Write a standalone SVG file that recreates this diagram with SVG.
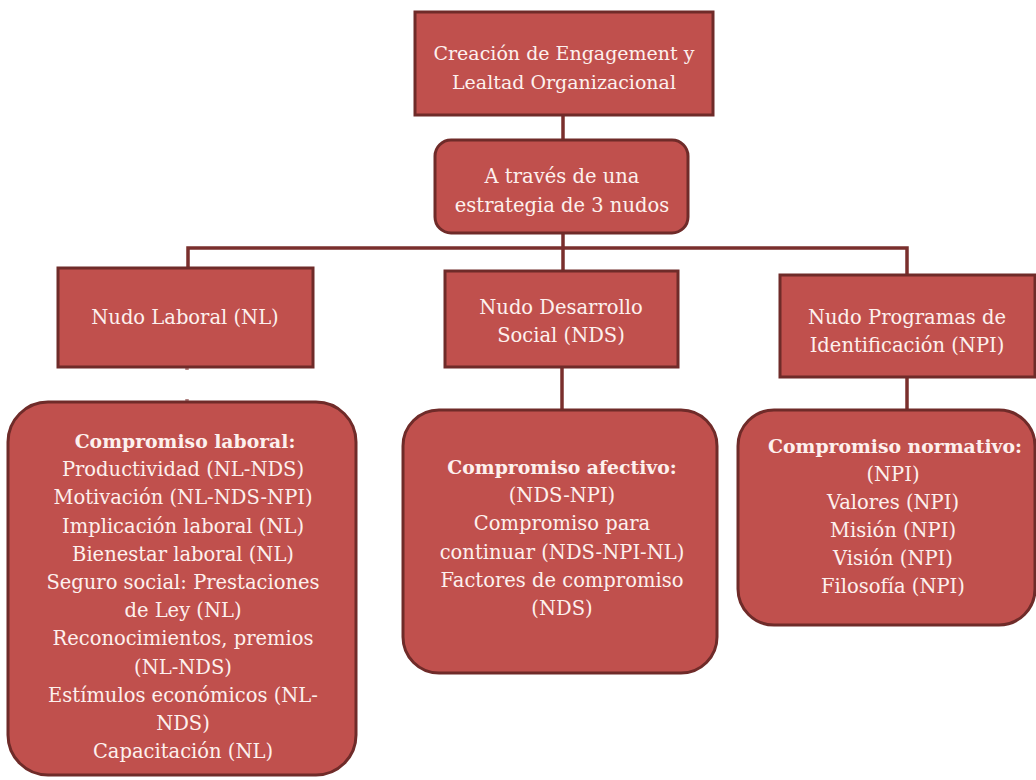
<svg xmlns="http://www.w3.org/2000/svg" width="1036" height="780" viewBox="0 0 1036 780">
<style>
.box{fill:#c0504d;stroke:#6f2b29;stroke-width:3}
.t{font-family:'DejaVu Serif','Liberation Serif',serif;font-size:19.5px;fill:#fdf0ee;text-anchor:middle}
.s{font-size:19px}
.b{font-weight:bold;font-size:18.8px}
.c{stroke:#7a2f2d;stroke-width:3.5;fill:none}
</style>
<rect width="1036" height="780" fill="#ffffff"/>
<g id="connectors">
<path class="c" d="M563,115 V140"/>
<path class="c" d="M563,233 V271"/>
<path class="c" d="M188,268 V248 H907 V275"/>
<path class="c" d="M187,367 V370 M187,399 V402" stroke-opacity="0.6"/>
<path class="c" d="M562,367 V410"/>
<path class="c" d="M907,377 V410"/>
</g>
<g id="n-top">
<rect class="box" x="415" y="12" width="298" height="103"/>
<text class="t s" x="564" y="60">Creación de Engagement y</text>
<text class="t s" x="564" y="89">Lealtad Organizacional</text>
</g>
<g id="n-strategy">
<rect class="box" x="435" y="140" width="253" height="93" rx="16"/>
<text class="t" x="562" y="183">A través de una</text>
<text class="t" x="562" y="212">estrategia de 3 nudos</text>
</g>
<g id="n-nl">
<rect class="box" x="58" y="268" width="255" height="99"/>
<text class="t" x="185" y="324">Nudo Laboral (NL)</text>
</g>
<g id="n-nds">
<rect class="box" x="445" y="271" width="233" height="96"/>
<text class="t" x="561" y="314">Nudo Desarrollo</text>
<text class="t" x="561" y="342">Social (NDS)</text>
</g>
<g id="n-npi">
<rect class="box" x="780" y="275" width="255" height="102"/>
<text class="t" x="907" y="324">Nudo Programas de</text>
<text class="t" x="907" y="352">Identificación (NPI)</text>
</g>
<g id="n-laboral">
<rect class="box" x="8" y="402" width="348" height="373" rx="40"/>
<text class="t b" x="185" y="448">Compromiso laboral:</text>
<text class="t" x="183" y="476">Productividad (NL-NDS)</text>
<text class="t" x="183" y="504">Motivación (NL-NDS-NPI)</text>
<text class="t" x="183" y="533">Implicación laboral (NL)</text>
<text class="t" x="183" y="561">Bienestar laboral (NL)</text>
<text class="t" x="183" y="589">Seguro social: Prestaciones</text>
<text class="t" x="183" y="617">de Ley (NL)</text>
<text class="t" x="183" y="645">Reconocimientos, premios</text>
<text class="t" x="183" y="674">(NL-NDS)</text>
<text class="t" x="183" y="702">Estímulos económicos (NL-</text>
<text class="t" x="183" y="730">NDS)</text>
<text class="t" x="183" y="758">Capacitación (NL)</text>
</g>
<g id="n-afectivo">
<rect class="box" x="403" y="410" width="314" height="263" rx="36"/>
<text class="t b" x="562" y="474">Compromiso afectivo:</text>
<text class="t" x="562" y="502">(NDS-NPI)</text>
<text class="t" x="562" y="530">Compromiso para</text>
<text class="t" x="562" y="559">continuar (NDS-NPI-NL)</text>
<text class="t" x="562" y="587">Factores de compromiso</text>
<text class="t" x="562" y="615">(NDS)</text>
</g>
<g id="n-normativo">
<rect class="box" x="738" y="410" width="297" height="215" rx="36"/>
<text class="t b" x="895" y="453">Compromiso normativo:</text>
<text class="t" x="893" y="481">(NPI)</text>
<text class="t" x="893" y="509">Valores (NPI)</text>
<text class="t" x="893" y="537">Misión (NPI)</text>
<text class="t" x="893" y="565">Visión (NPI)</text>
<text class="t" x="893" y="593">Filosofía (NPI)</text>
</g>
</svg>
